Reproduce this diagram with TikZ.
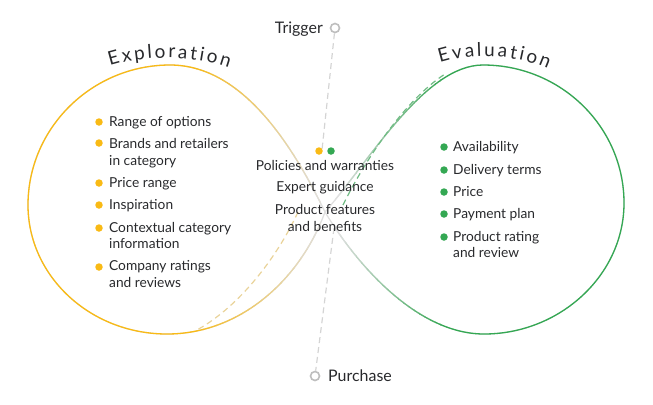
\documentclass[tikz,border=0pt]{standalone}
\usepackage{fontspec}
\setmainfont{Lato}
\usetikzlibrary{decorations.text}
\definecolor{expyellow}{RGB}{249,186,21}
\definecolor{evalgreen}{RGB}{52,168,83}
\definecolor{fadegray}{RGB}{224,224,224}
\definecolor{dashgray}{RGB}{212,212,212}
\definecolor{ringgray}{RGB}{190,190,190}
\definecolor{inkdark}{RGB}{40,41,44}
\newcommand{\titlefont}{\fontsize{19}{22}\selectfont}
% the two halves of the loop
\newcommand{\leftloop}{(C) .. controls (300,280) and (240,334) .. (167,334) .. controls (90,334) and (28,276) .. (28,205) .. controls (28,128) and (92,65) .. (170,65) .. controls (240,65) and (290,140) .. (C)}
\newcommand{\rightloop}{(C) .. controls (370,160) and (425,65) .. (483,65) .. controls (561,65) and (624,127) .. (624,203) .. controls (624,275) and (560,334) .. (484,334) .. controls (420,334) and (360,270) .. (C)}

\begin{document}
\begin{tikzpicture}[x=1bp,y=-1bp,
    every node/.style={text=inkdark, font=\fontsize{13.8}{16.5}\selectfont},
    loopline/.style={line width=1.3bp},
    dashline/.style={line width=1.2bp, dash pattern=on 6bp off 4bp},
    item/.style={anchor=base west, align=left, inner sep=0pt},
    mid/.style={anchor=base, align=center, inner sep=0pt},
    endlabel/.style={inner sep=0pt, font=\fontsize{16}{19}\selectfont},
    dotY/.style={circle, fill=expyellow, inner sep=0pt, minimum size=7.5bp},
    dotG/.style={circle, fill=evalgreen, inner sep=0pt, minimum size=7.5bp},
    ring/.style={circle, draw=ringgray, fill=white, line width=1.6bp, inner sep=0pt, minimum size=9bp}]
    \useasboundingbox (0,0) rectangle (653,404);
    \coordinate (C) at (325,212);
    % exploration loop, yellow fading to gray
    \draw[loopline, draw=fadegray] \leftloop;
    \begin{scope}
        \clip (0,0) rectangle (190,404);
        \draw[loopline, draw=expyellow] \leftloop;
    \end{scope}
    \foreach \i in {0,...,19} {
        \pgfmathsetmacro\xa{190+\i*6.5}
        \pgfmathsetmacro\pct{100-\i*5}
        \begin{scope}
            \clip (\xa,0) rectangle (\xa+7,404);
            \draw[loopline, draw=expyellow!\pct!fadegray] \leftloop;
        \end{scope}
    }
    % evaluation loop, green fading to gray
    \draw[loopline, draw=fadegray] \rightloop;
    \begin{scope}
        \clip (440,0) rectangle (653,404);
        \draw[loopline, draw=evalgreen] \rightloop;
    \end{scope}
    \foreach \i in {0,...,19} {
        \pgfmathsetmacro\xa{335+\i*5.25}
        \pgfmathsetmacro\pct{\i*5}
        \begin{scope}
            \clip (\xa,0) rectangle (\xa+6,404);
            \draw[loopline, draw=evalgreen!\pct!fadegray] \rightloop;
        \end{scope}
    }
    % journey path
    \coordinate (yA) at (298,212);
    \coordinate (yB) at (195,331);
    \coordinate (gA) at (343,205);
    \coordinate (gB) at (445,74);
    \coordinate (tEnd) at (322,150);
    \coordinate (pStart) at (334,228);
    \draw[dashline, draw=expyellow!35!fadegray] (yA) .. controls (275,262) and (235,310) .. (yB);
    \draw[dashline, draw=evalgreen!65!fadegray] (gA) .. controls (365,160) and (405,100) .. (gB);
    \node[ring] (trig) at (335,28) {};
    \node[ring] (purch) at (315,376) {};
    \draw[dashline, draw=dashgray] (trig) -- (tEnd);
    \draw[dashline, draw=dashgray] (pStart) -- (purch);
    \node[endlabel, anchor=base east] (trigtxt) at (323,33.5) {Trigger};
    \node[endlabel, anchor=base west] (purchtxt) at (328,381.5) {Purchase};
    % titles
    \path[decorate, decoration={text along path, text color=inkdark,
        text={|\titlefont|Exploration}, text align=fit to path}]
        (110,66) .. controls (145,55) and (193,55) .. (229,68);
    \path[decorate, decoration={text along path, text color=inkdark,
        text={|\titlefont|Evaluation}, text align=fit to path}]
        (440,63) .. controls (472,53) and (515,54) .. (548,69);
    % exploration list
    \node[dotY] (e1dot) at (99,122) {};
    \node[item] (e1) at (109,126.5) {Range of options};
    \node[dotY] (e2dot) at (99,143) {};
    \node[item] (e2) at (109,165) {Brands and retailers\\in category};
    \node[dotY] (e3dot) at (99,183) {};
    \node[item] (e3) at (109,187.5) {Price range};
    \node[dotY] (e4dot) at (99,205) {};
    \node[item] (e4) at (109,209.5) {Inspiration};
    \node[dotY] (e5dot) at (99,228) {};
    \node[item] (e5) at (109,248.5) {Contextual category\\information};
    \node[dotY] (e6dot) at (99,267) {};
    \node[item] (e6) at (109,287) {Company ratings\\and reviews};
    % shared middle
    \node[dotY] (mdotY) at (319,151) {};
    \node[dotG] (mdotG) at (331,151) {};
    \node[mid] (m1) at (325,170.5) {Policies and warranties};
    \node[mid] (m2) at (325,191.5) {Expert guidance};
    \node[mid] (m3) at (325,231) {Product features\\and benefits};
    % evaluation list
    \node[dotG] (v1dot) at (444,147) {};
    \node[item] (v1) at (453,151.5) {Availability};
    \node[dotG] (v2dot) at (444,170) {};
    \node[item] (v2) at (453,174.5) {Delivery terms};
    \node[dotG] (v3dot) at (444,192) {};
    \node[item] (v3) at (453,196.5) {Price};
    \node[dotG] (v4dot) at (444,214) {};
    \node[item] (v4) at (453,218.5) {Payment plan};
    \node[dotG] (v5dot) at (444,237) {};
    \node[item] (v5) at (453,257.5) {Product rating\\and review};
\end{tikzpicture}
\end{document}
